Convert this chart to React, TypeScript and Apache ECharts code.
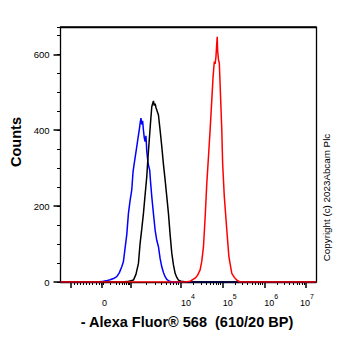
import React, { useEffect, useRef } from "react";
import * as echarts from "echarts";

// x values are in display units of the biexponential axis (10^4 -> 4, 10^5 -> 5 ...)
const blueHistogram: [number, number][] = [
  [1.11, 0], [1.8, 0], [2.0, 0], [2.1, 1], [2.2, 3], [2.3, 6], [2.4, 10], [2.46, 14], [2.52, 24], [2.58, 40],
  [2.62, 54], [2.66, 90], [2.7, 125], [2.74, 181], [2.78, 215], [2.82, 243], [2.85, 290],
  [2.88, 313], [2.91, 335], [2.94, 357], [2.97, 380], [3.0, 401], [3.02, 418], [3.04, 432],
  [3.06, 415], [3.08, 425], [3.1, 400], [3.12, 380], [3.14, 370], [3.16, 385], [3.18, 345],
  [3.21, 313], [3.25, 295], [3.27, 265], [3.3, 225], [3.34, 180], [3.38, 137], [3.42, 110],
  [3.46, 93], [3.5, 62], [3.54, 40], [3.58, 25], [3.62, 14], [3.66, 7], [3.72, 2], [3.8, 0], [7.24, 0],
];
const blackHistogram: [number, number][] = [
  [1.11, 0], [2.6, 0], [2.7, 1], [2.78, 3], [2.86, 5], [2.92, 20], [2.98, 49], [3.02, 102], [3.06, 140],
  [3.1, 181], [3.14, 230], [3.18, 278], [3.21, 330], [3.24, 375], [3.27, 420], [3.3, 462],
  [3.32, 470], [3.34, 477], [3.36, 465], [3.38, 470], [3.4, 460], [3.43, 450], [3.46, 440],
  [3.5, 400], [3.54, 357], [3.58, 310], [3.62, 269], [3.66, 225], [3.7, 181], [3.74, 125],
  [3.78, 76], [3.82, 45], [3.86, 23], [3.9, 12], [3.94, 5], [4.0, 2], [4.14, 0], [7.24, 0],
];
const redHistogram: [number, number][] = [
  [1.11, 0], [4.1, 0], [4.22, 2], [4.34, 10], [4.4, 18], [4.46, 32], [4.5, 55], [4.54, 93], [4.58, 170],
  [4.62, 260], [4.66, 330], [4.7, 401], [4.74, 480], [4.77, 540], [4.8, 581], [4.82, 575],
  [4.84, 594], [4.86, 630], [4.87, 646], [4.88, 610], [4.9, 586], [4.92, 577], [4.95, 489],
  [4.98, 400], [5.0, 313], [5.04, 225], [5.1, 137], [5.15, 67], [5.22, 23], [5.28, 12],
  [5.3, 10], [5.35, 4], [5.42, 0], [7.24, 0],
];

const X_MIN = 1.11;
const X_MAX = 7.24;
// major tick positions: -10^3, 0, 10^3, 10^4, 10^5, 10^6, 10^7
const xMajorTicks = [1.362, 2.106, 2.801, 4, 5, 6, 7];
// label anchors (left edge of each label); the 10^7 label sits a little left of its tick
const xLabelValues = [2.106, 4, 5, 6, 6.854];
const xLabelTexts = ["0", "10^4", "10^5", "10^6", "10^7"];

const Y_MIN = 0;
const Y_MAX = 672;
const yMajorInterval = 200;
const yMinorInterval = 50;

function buildMinorTicks(): number[] {
  const ticks: number[] = [];
  const neg = xMajorTicks[0];
  const zero = xMajorTicks[1];
  const e3 = xMajorTicks[2];
  for (let k = 1; k <= 9; k++) ticks.push(neg + ((zero - neg) * k) / 10);
  ticks.push(zero - 0.02, zero + 0.02);
  for (let k = 2; k <= 9; k++) ticks.push(zero + (e3 - zero) * Math.log10(k));
  for (let k = 2; k <= 9; k++) ticks.push(e3 + (4 - e3) * Math.log10(k));
  for (let d = 4; d < 7; d++) for (let k = 2; k <= 9; k++) ticks.push(d + Math.log10(k));
  return ticks;
}

const GRID = { left: 60.5, top: 27, right: 46, bottom: 69 };
const W = 362;
const H = 351;

export default function App() {
  const ref = useRef<HTMLDivElement>(null);
  useEffect(() => {
    if (!ref.current) return;
    const chart = echarts.init(ref.current, null, { renderer: "svg" });
    const font = "Liberation Sans, Arial, sans-serif";
    const labelFmt = (v: number) => {
      let idx = 0;
      let best = Infinity;
      xLabelValues.forEach((lv, i) => {
        const d = Math.abs(lv - v);
        if (d < best) {
          best = d;
          idx = i;
        }
      });
      const t = xLabelTexts[idx];
      if (t.indexOf("^") < 0) return "{b|" + t + "}";
      const [base, exp] = t.split("^");
      return "{b|" + base + "}{s|" + exp + "}";
    };
    const rich = {
      b: { fontSize: 9, fontFamily: font, color: "#000", lineHeight: 14, verticalAlign: "bottom" },
      s: { fontSize: 7, fontFamily: font, color: "#000", lineHeight: 14, verticalAlign: "top" },
    };
    const frameLine = { show: true, lineStyle: { color: "#000", width: 1.3 } };
    chart.setOption({
      animation: false,
      grid: { ...GRID, show: false, containLabel: false },
      xAxis: [
        {
          type: "value",
          min: X_MIN,
          max: X_MAX,
          position: "bottom",
          axisLine: frameLine,
          axisTick: {
            show: true,
            inside: false,
            length: 6,
            lineStyle: { color: "#000", width: 1.5 },
            customValues: xMajorTicks,
          },
          axisLabel: {
            show: true,
            align: "left",
            margin: 11,
            customValues: xLabelValues,
            formatter: labelFmt,
            rich,
          },
          splitLine: { show: false },
        },
        {
          type: "value",
          min: X_MIN,
          max: X_MAX,
          position: "bottom",
          axisLine: { show: false },
          axisTick: {
            show: true,
            inside: false,
            length: 3,
            lineStyle: { color: "#000", width: 1 },
            customValues: buildMinorTicks(),
          },
          axisLabel: { show: false },
          splitLine: { show: false },
        },
      ],
      yAxis: [
        {
          type: "value",
          min: Y_MIN,
          max: Y_MAX,
          interval: yMajorInterval,
          position: "left",
          axisLine: frameLine,
          axisTick: { show: true, length: 7, lineStyle: { color: "#000", width: 1.5 } },
          axisLabel: {
            show: true,
            margin: 11,
            fontSize: 9.5,
            fontFamily: font,
            color: "#000",
            showMaxLabel: false,
          },
          splitLine: { show: false },
        },
        {
          type: "value",
          min: Y_MIN,
          max: Y_MAX,
          interval: yMinorInterval,
          position: "left",
          axisLine: { show: false },
          axisTick: { show: true, length: 3.5, lineStyle: { color: "#000", width: 1 } },
          axisLabel: { show: false },
          splitLine: { show: false },
        },
        {
          type: "value",
          min: Y_MIN,
          max: Y_MAX,
          interval: Y_MAX,
          position: "right",
          axisLine: frameLine,
          axisTick: { show: false },
          axisLabel: { show: false },
          splitLine: {
            show: true,
            showMinLine: false,
            showMaxLine: true,
            lineStyle: { color: "#000", width: 1.3, type: "solid" },
          },
        },
      ],
      graphic: [
        {
          type: "text",
          x: 16,
          y: 142,
          rotation: Math.PI / 2,
          style: {
            text: "Counts",
            fontSize: 14.5,
            fontWeight: "bold",
            fontFamily: font,
            fill: "#000",
            align: "center",
            verticalAlign: "middle",
          },
        },
        {
          type: "text",
          x: 187,
          y: 322,
          style: {
            text: "- Alexa Fluor® 568  (610/20 BP)",
            fontSize: 14.5,
            fontWeight: "bold",
            fontFamily: font,
            fill: "#000",
            align: "center",
            verticalAlign: "middle",
          },
        },
        {
          type: "text",
          x: 326,
          y: 197.5,
          rotation: Math.PI / 2,
          style: {
            text: "Copyright (c) 2023Abcam Plc",
            fontSize: 9.8,
            fontFamily: font,
            fill: "#000",
            align: "center",
            verticalAlign: "middle",
          },
        },
      ],
      series: [
        {
          name: "frame-top",
          type: "line",
          data: [
            [X_MIN, Y_MAX],
            [X_MAX, Y_MAX],
          ],
          clip: false,
          silent: true,
          showSymbol: false,
          lineStyle: { color: "#000", width: 1.5 },
          itemStyle: { color: "#000" },
        },
        {
          name: "blue",
          type: "line",
          data: blueHistogram,
          showSymbol: false,
          lineStyle: { color: "#0000ff", width: 1.5 },
          itemStyle: { color: "#0000ff" },
        },
        {
          name: "black",
          type: "line",
          data: blackHistogram,
          showSymbol: false,
          lineStyle: { color: "#000000", width: 1.5 },
          itemStyle: { color: "#000000" },
        },
        {
          name: "red",
          type: "line",
          data: redHistogram,
          showSymbol: false,
          lineStyle: { color: "#ff0000", width: 1.5 },
          itemStyle: { color: "#ff0000" },
        },
      ],
    });
    return () => chart.dispose();
  }, []);
  return (
    <div
      ref={ref}
      style={{ position: "fixed", left: 0, top: 0, width: W, height: H, background: "#fff" }}
    />
  );
}
